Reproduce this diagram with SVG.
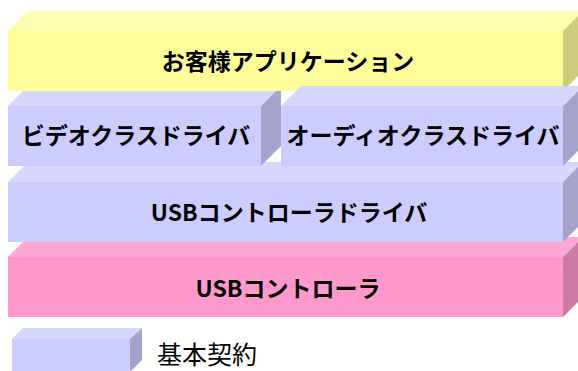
<svg xmlns="http://www.w3.org/2000/svg" width="578" height="371" viewBox="0 0 578 371">
<style>
.yf{fill:#FFFF99}.yt{fill:#FFFFB3}.ys{fill:#CCCC7A}
.bf{fill:#CCCCFF}.bt{fill:#D6D6FF}.bs{fill:#A3A3CC}
.pf{fill:#FF99CC}.pt{fill:#FFA8D5}.ps{fill:#CC7AA3}
.lbl{font-family:"Noto Sans CJK JP","Noto Sans",sans-serif;font-size:23px;font-weight:bold;fill:#000;text-anchor:middle}
.leg{font-family:"Noto Sans CJK JP","Noto Sans",sans-serif;font-size:25px;fill:#000}
</style>
<rect width="578" height="371" fill="#fff"/>
<g id="usb-controller">
<polygon class="pt" points="8,257 28,237 583,237 563,257"/>
<polygon class="ps" points="563,257 583,237 583,297 563,317"/>
<rect class="pf" x="8" y="257" width="555" height="60"/>
<text class="lbl" x="288" y="297">USBコントローラ</text>
</g>
<g id="usb-controller-driver">
<polygon class="bt" points="8,182 28,162 583,162 563,182"/>
<polygon class="bs" points="563,182 583,162 583,222 563,242"/>
<rect class="bf" x="8" y="182" width="555" height="60"/>
<text class="lbl" x="289" y="221">USBコントローラドライバ</text>
</g>
<g id="video-class-driver">
<polygon class="bt" points="8,106 28,86 281,86 261,106"/>
<polygon class="bs" points="261,106 281,86 281,146 261,166"/>
<rect class="bf" x="8" y="106" width="253" height="60"/>
<text class="lbl" x="136" y="144">ビデオクラスドライバ</text>
</g>
<g id="customer-application">
<polygon class="yt" points="8,31 28,11 583,11 563,31"/>
<polygon class="ys" points="563,31 583,11 583,71 563,91"/>
<rect class="yf" x="8" y="31" width="555" height="60"/>
<text class="lbl" x="288" y="70">お客様アプリケーション</text>
</g>
<g id="audio-class-driver">
<polygon class="bt" points="281,106 301,86 583,86 563,106"/>
<polygon class="bs" points="563,106 583,86 583,146 563,166"/>
<rect class="bf" x="281" y="106" width="282" height="60"/>
<text class="lbl" x="423" y="144">オーディオクラスドライバ</text>
</g>
<g id="legend">
<polygon class="bt" points="12,339 23,328 142,328 130,339"/>
<polygon class="bs" points="130,339 142,328 142,360 130,372"/>
<rect class="bf" x="12" y="339" width="118" height="33"/>
<text class="leg" x="157" y="364">基本契約</text>
</g>
<g id="connectors"/>
</svg>
